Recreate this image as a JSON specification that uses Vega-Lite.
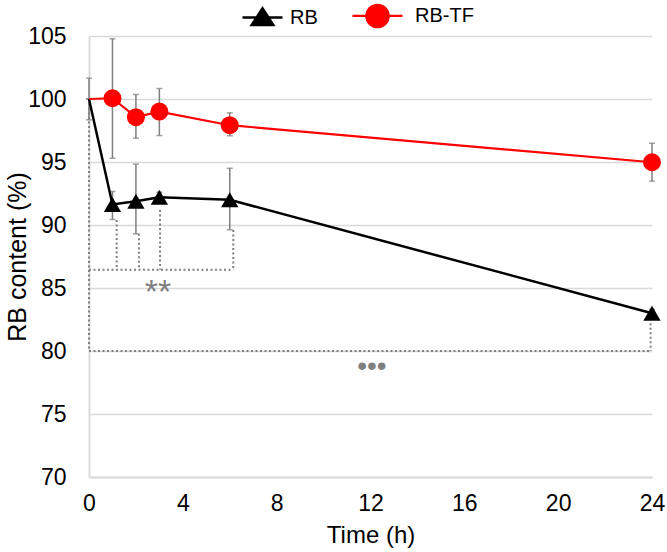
{
  "$schema": "https://vega.github.io/schema/vega-lite/v6.json",
  "width": 563,
  "height": 441,
  "autosize": "none",
  "padding": {"left": 89, "top": 36, "right": 15, "bottom": 75},
  "config": {
    "font": "Liberation Sans",
    "view": {"stroke": null}
  },
  "datasets": {
    "series": [
      {"series": "RB", "t": 0, "v": 100, "lo": 98.35, "hi": 101.65},
      {"series": "RB", "t": 1, "v": 91.63, "lo": 90.44, "hi": 92.66},
      {"series": "RB", "t": 2, "v": 91.88, "lo": 89.3, "hi": 94.83},
      {"series": "RB", "t": 3, "v": 92.2, "lo": 91.8, "hi": 92.6},
      {"series": "RB", "t": 6, "v": 92.0, "lo": 89.62, "hi": 94.5},
      {"series": "RB", "t": 24, "v": 83.0, "lo": 82.7, "hi": 83.3},
      {"series": "RB-TF", "t": 0, "v": 100, "lo": 100, "hi": 100},
      {"series": "RB-TF", "t": 1, "v": 100.06, "lo": 95.3, "hi": 104.78},
      {"series": "RB-TF", "t": 2, "v": 98.56, "lo": 96.89, "hi": 100.36},
      {"series": "RB-TF", "t": 3, "v": 99.0, "lo": 97.1, "hi": 100.83},
      {"series": "RB-TF", "t": 6, "v": 97.92, "lo": 97.08, "hi": 98.9},
      {"series": "RB-TF", "t": 24, "v": 94.98, "lo": 93.48, "hi": 96.49}
    ],
    "brackets": [
      {"x": 0, "x2": 0, "y": 100, "y2": 80},
      {"x": 1.18, "x2": 1.18, "y": 90.4, "y2": 86.44},
      {"x": 2.13, "x2": 2.13, "y": 89.3, "y2": 86.44},
      {"x": 3.03, "x2": 3.03, "y": 91.2, "y2": 86.44},
      {"x": 6.15, "x2": 6.15, "y": 89.6, "y2": 86.44},
      {"x": 0, "x2": 6.15, "y": 86.44, "y2": 86.44},
      {"x": 0, "x2": 23.94, "y": 80, "y2": 80},
      {"x": 23.94, "x2": 23.94, "y": 82.2, "y2": 80}
    ],
    "marks": [
      {"label": "**", "t": 2.94, "v": 85.2, "kind": "star"},
      {"label": "•••", "t": 12.06, "v": 78.8, "kind": "dot"}
    ]
  },
  "layer": [
    {
      "data": {"name": "brackets"},
      "mark": {"type": "rule", "color": "#808080", "strokeWidth": 2, "strokeDash": [2, 2.5]},
      "encoding": {
        "x": {"field": "x", "type": "quantitative", "title": "Time (h)", "scale": {"domain": [0, 24], "nice": false}},
        "x2": {"field": "x2"},
        "y": {"field": "y", "type": "quantitative", "title": "RB content (%)", "scale": {"domain": [70, 105], "nice": false}},
        "y2": {"field": "y2"}
      }
    },
    {
      "data": {"name": "series"},
      "mark": {"type": "errorbar", "color": "#7f7f7f", "thickness": 1.5, "ticks": {"size": 6}},
      "encoding": {
        "x": {"field": "t", "type": "quantitative", "title": "Time (h)"},
        "y": {"field": "lo", "type": "quantitative", "title": "RB content (%)"},
        "y2": {"field": "hi"}
      }
    },
    {
      "data": {"name": "series"},
      "mark": {"type": "line"},
      "encoding": {
        "x": {
          "field": "t", "type": "quantitative",
          "title": "Time (h)",
          "scale": {"domain": [0, 24], "nice": false},
          "axis": {
            "values": [0, 4, 8, 12, 16, 20, 24],
            "grid": false,
            "ticks": false,
            "labelFlush": false,
            "domainColor": "#d9d9d9",
            "domainWidth": 2,
            "labelFontSize": 23,
            "labelColor": "#000",
            "labelPadding": 15,
            "titleFontSize": 24,
            "titleFontWeight": "normal",
            "titleColor": "#000",
            "titleBaseline": "alphabetic",
            "titleY": 65
          }
        },
        "y": {
          "field": "v", "type": "quantitative",
          "title": "RB content (%)",
          "scale": {"domain": [70, 105], "nice": false},
          "axis": {
            "values": [70, 75, 80, 85, 90, 95, 100, 105],
            "grid": true,
            "gridColor": "#d9d9d9",
            "gridWidth": 1.5,
            "ticks": false,
            "labelFlush": false,
            "domainColor": "#d9d9d9",
            "domainWidth": 2,
            "labelFontSize": 23,
            "labelColor": "#000",
            "labelPadding": 23,
            "titleFontSize": 25,
            "titleFontWeight": "normal",
            "titleColor": "#000",
            "titleBaseline": "alphabetic",
            "titleX": -64
          }
        },
        "color": {
          "field": "series", "type": "nominal",
          "scale": {"domain": ["RB", "RB-TF"], "range": ["#000000", "#ff0000"]},
          "legend": {
            "orient": "none",
            "direction": "horizontal",
            "legendX": 162,
            "legendY": -32,
            "title": null,
            "labelFontSize": 20,
            "labelColor": "#000",
            "symbolSize": 400,
            "labelOffset": 16,
            "columnPadding": 30,
            "encode": {
              "symbols": {
                "update": {
                  "shape": {"signal": "datum.value === 'RB' ? 'M-2,0L2,0M-1.08,0.75L1.08,0.75L0,-0.92Z' : 'M-3.5,0L1.5,0M-2.12,0A1.12,1.12,0,1,1,0.12,0A1.12,1.12,0,1,1,-2.12,0Z'"},
                  "fill": {"signal": "datum.value === 'RB' ? '#000000' : '#ff0000'"},
                  "stroke": {"signal": "datum.value === 'RB' ? '#000000' : '#ff0000'"},
                  "strokeWidth": {"value": 2.5},
                  "opacity": {"value": 1}
                }
              }
            }
          }
        },
        "strokeWidth": {
          "field": "series", "type": "nominal",
          "scale": {"domain": ["RB", "RB-TF"], "range": [2.5, 2.2]},
          "legend": null
        }
      }
    },
    {
      "data": {"name": "series"},
      "transform": [{"filter": "datum.t > 0 && datum.series === 'RB'"}],
      "mark": {"type": "point", "filled": true, "opacity": 1, "shape": "triangle-up", "size": 300, "color": "#000000"},
      "encoding": {
        "x": {"field": "t", "type": "quantitative", "title": "Time (h)"},
        "y": {"field": "v", "type": "quantitative", "title": "RB content (%)"}
      }
    },
    {
      "data": {"name": "series"},
      "transform": [{"filter": "datum.t > 0 && datum.series === 'RB-TF'"}],
      "mark": {"type": "point", "filled": true, "opacity": 1, "shape": "circle", "size": 324, "color": "#ff0000"},
      "encoding": {
        "x": {"field": "t", "type": "quantitative", "title": "Time (h)"},
        "y": {"field": "v", "type": "quantitative", "title": "RB content (%)"}
      }
    },
    {
      "data": {"name": "marks"},
      "transform": [{"filter": "datum.kind === 'star'"}],
      "mark": {"type": "text", "color": "#7f7f7f", "fontSize": 34, "baseline": "alphabetic", "align": "center", "dy": 17.7},
      "encoding": {
        "x": {"field": "t", "type": "quantitative", "title": "Time (h)"},
        "y": {"field": "v", "type": "quantitative", "title": "RB content (%)"},
        "text": {"field": "label"}
      }
    },
    {
      "data": {"name": "marks"},
      "transform": [{"filter": "datum.kind === 'dot'"}],
      "mark": {"type": "text", "color": "#7f7f7f", "fontSize": 28, "baseline": "alphabetic", "align": "center", "dy": 9.3},
      "encoding": {
        "x": {"field": "t", "type": "quantitative", "title": "Time (h)"},
        "y": {"field": "v", "type": "quantitative", "title": "RB content (%)"},
        "text": {"field": "label"}
      }
    }
  ]
}
